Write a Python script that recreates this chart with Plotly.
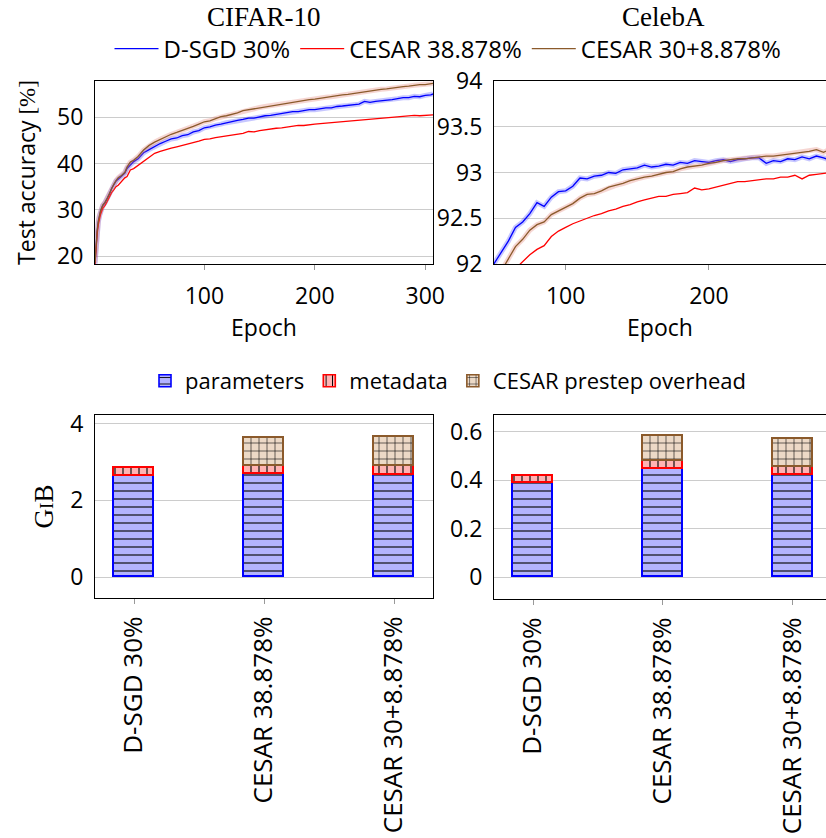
import plotly.graph_objects as go

# ---------------- data ----------------
cifar_epochs = [1, 2, 3, 4, 5, 6, 8, 10, 12, 14, 16, 18, 20, 22, 25, 28, 30, 33, 36, 40, 45,
                50, 55, 60, 65, 70, 75, 80, 85, 90, 95,
                100, 105, 110, 115, 120, 125, 130, 135, 140, 145,
                150, 155, 160, 165, 170, 175, 180, 185, 190, 195,
                200, 205, 210, 215, 220, 225, 230, 235, 240, 245,
                250, 255, 260, 265, 270, 275, 280, 285, 290, 295,
                300, 305, 307]
cifar_dsgd = [18.4, 22.6, 25.4, 27.3, 28.6, 29.6, 30.9, 31.5, 32.4, 33.3, 34.6, 35.4, 36.2, 36.6, 37.3, 37.9, 38.9, 39.7, 40.4, 41.0, 42.3,
              43.0, 43.7, 44.3, 44.8, 45.3, 45.5, 46.0, 46.2, 46.8, 47.1,
              47.7, 47.9, 48.3, 48.5, 48.8, 49.0, 49.3, 49.5, 49.8, 49.8,
              50.1, 50.3, 50.4, 50.6, 50.7, 50.9, 51.2, 51.2, 51.4, 51.6,
              51.6, 51.8, 52.0, 52.0, 52.3, 52.4, 52.5, 52.7, 52.8, 53.4,
              53.2, 53.4, 53.5, 53.7, 53.8, 54.0, 54.2, 54.2, 54.5, 54.4,
              54.7, 54.8, 55.0]
cifar_cesar = [18.3, 22.0, 24.9, 26.8, 28.0, 29.0, 30.3, 30.9, 31.8, 32.8, 33.7, 34.3, 35.0, 35.3, 36.2, 36.9, 37.2, 38.6, 38.9, 39.6, 40.6,
               41.5, 42.2, 42.6, 43.0, 43.3, 43.6, 43.9, 44.1, 44.5, 44.8,
               45.2, 45.3, 45.6, 45.8, 46.0, 46.2, 46.4, 46.5, 46.9, 46.8,
               47.1, 47.3, 47.4, 47.6, 47.7, 47.9, 48.0, 48.2, 48.2, 48.4,
               48.5, 48.6, 48.7, 48.8, 48.9, 49.0, 49.1, 49.2, 49.3, 49.4,
               49.6, 49.6, 49.8, 49.9, 50.0, 50.0, 50.1, 50.2, 50.4, 50.3,
               50.4, 50.4, 50.5]
cifar_cesar_split = [18.5, 22.9, 25.7, 27.6, 28.8, 29.8, 31.0, 31.6, 32.5, 33.5, 34.8, 35.5, 36.3, 36.9, 37.4, 38.1, 39.2, 40.3, 40.7, 41.5, 42.9,
                     43.9, 44.6, 45.2, 45.8, 46.3, 46.7, 47.1, 47.5, 48.0, 48.5,
                     49.0, 49.2, 49.7, 50.1, 50.3, 50.6, 50.9, 51.4, 51.6, 51.9,
                     52.1, 52.3, 52.5, 52.6, 52.8, 53.0, 53.3, 53.4, 53.6, 53.8,
                     53.9, 54.1, 54.3, 54.4, 54.6, 54.8, 54.9, 55.1, 55.2, 55.5,
                     55.6, 55.8, 56.0, 56.1, 56.3, 56.4, 56.6, 56.7, 56.9, 57.0,
                     57.0, 57.2, 57.3]

celeba_epochs = [45, 50, 55, 60, 65, 70, 75, 80, 85, 90,
                 95, 100, 105, 110, 115, 120, 125, 130, 135, 140,
                 145, 150, 155, 160, 165, 170, 175, 180, 185, 190,
                 195, 200, 205, 210, 215, 220, 225, 230, 235, 240,
                 245, 250, 255, 260, 265, 270, 275, 280, 285]
celeba_dsgd = [91.88, 92.00, 92.13, 92.25, 92.40, 92.46, 92.55, 92.67, 92.63, 92.73,
               92.79, 92.80, 92.85, 92.94, 92.93, 92.96, 92.97, 93.00, 92.99, 93.03,
               93.04, 93.05, 93.08, 93.06, 93.07, 93.09, 93.08, 93.11, 93.10, 93.13,
               93.12, 93.11, 93.13, 93.14, 93.12, 93.14, 93.15, 93.16, 93.16, 93.10,
               93.13, 93.12, 93.15, 93.14, 93.17, 93.15, 93.18, 93.16, 93.13]
celeba_cesar = [None, None, None, None, 91.95, 92.03, 92.10, 92.16, 92.20, 92.30,
                92.36, 92.40, 92.44, 92.47, 92.50, 92.53, 92.55, 92.58, 92.60, 92.63,
                92.65, 92.68, 92.70, 92.72, 92.74, 92.74, 92.76, 92.77, 92.78, 92.83,
                92.81, 92.82, 92.84, 92.86, 92.88, 92.90, 92.90, 92.91, 92.92, 92.93,
                92.93, 92.95, 92.95, 92.97, 92.93, 92.97, 92.98, 92.99, 93.00]
celeba_cesar_split = [None, None, 91.92, 92.05, 92.19, 92.27, 92.37, 92.43, 92.46, 92.54,
                      92.58, 92.62, 92.66, 92.72, 92.76, 92.77, 92.80, 92.84, 92.86, 92.88,
                      92.91, 92.93, 92.95, 92.96, 92.98, 93.00, 93.01, 93.04, 93.06, 93.07,
                      93.08, 93.10, 93.11, 93.13, 93.14, 93.15, 93.15, 93.16, 93.17, 93.18,
                      93.18, 93.19, 93.20, 93.21, 93.22, 93.23, 93.25, 93.22, 93.26]

categories = ["D-SGD 30%", "CESAR 38.878%", "CESAR 30+8.878%"]
cifar_params = [2.63, 2.68, 2.66]
cifar_meta = [0.20, 0.22, 0.23]
cifar_overhead = [None, 0.72, 0.76]
celeba_params = [0.390, 0.448, 0.423]
celeba_meta = [0.030, 0.032, 0.032]
celeba_overhead = [None, 0.105, 0.115]

series_names = ["D-SGD 30%", "CESAR 38.878%", "CESAR 30+8.878%"]
bar_names = ["parameters", "metadata", "CESAR prestep overhead"]

# ---------------- style ----------------
W, H = 826, 838
SANS = "Open Sans"
SERIF = "Liberation Serif"
FS = 23
BLUE, RED, BROWN = "#0000ff", "#ff0000", "#8b5a2b"
HALO = {BLUE: "rgba(0,0,255,0.22)", RED: "rgba(255,0,0,0.15)", BROWN: "rgba(225,120,105,0.30)"}
GRID = "#cccccc"


def px_x(a, b):
    return [a / W, b / W]


def px_y(top, bottom):
    return [1 - bottom / H, 1 - top / H]


fig = go.Figure()

# ---- line charts ----
for (xs, ys_list, xa, ya, show) in [
    (cifar_epochs, [cifar_dsgd, cifar_cesar, cifar_cesar_split], "x", "y", True),
    (celeba_epochs, [celeba_dsgd, celeba_cesar, celeba_cesar_split], "x2", "y2", False),
]:
    for name, ys, col in zip(series_names, ys_list, [BLUE, RED, BROWN]):
        if col != RED:
            fig.add_trace(go.Scatter(x=xs, y=ys, mode="lines", xaxis=xa, yaxis=ya,
                                     line=dict(color=HALO[col], width=5),
                                     showlegend=False, hoverinfo="skip"))
        fig.add_trace(go.Scatter(x=xs, y=ys, mode="lines", name=name, xaxis=xa, yaxis=ya,
                                 line=dict(color=col, width=1.3),
                                 showlegend=show, legend="legend"))

# ---- bar charts ----
bar_styles = [
    dict(fill="#b3b3ff", line=BLUE, shape="-"),
    dict(fill="#ffb3b3", line=RED, shape="|"),
    dict(fill="#ecd9c6", line=BROWN, shape="+"),
]
for (vals, xa, ya, show) in [
    ([cifar_params, cifar_meta, cifar_overhead], "x3", "y3", True),
    ([celeba_params, celeba_meta, celeba_overhead], "x4", "y4", False),
]:
    for name, v, st in zip(bar_names, vals, bar_styles):
        fig.add_trace(go.Bar(
            x=categories, y=v, name=name, xaxis=xa, yaxis=ya, width=0.31,
            marker=dict(color=st["fill"], line=dict(color=st["line"], width=1.6),
                        pattern=dict(shape=st["shape"], fgcolor="black", bgcolor=st["fill"],
                                     size=8, solidity=0.14, fillmode="replace")),
            showlegend=show, legend="legend2"))

axis_common = dict(showline=True, linecolor="black", linewidth=1.2,
                   zeroline=False, automargin=False)
tick_font = dict(family=SANS, size=FS, color="black")
cat_font = dict(family=SANS, size=26, color="black")

fig.update_layout(
    width=W, height=H, margin=dict(l=0, r=0, t=0, b=0, autoexpand=False),
    paper_bgcolor="white", plot_bgcolor="white",
    barmode="stack", bargap=0,
    font=dict(family=SANS, size=FS, color="black"),
    xaxis=dict(domain=px_x(95, 433), range=[1, 307], tickvals=[100, 200, 300], anchor="y",
               mirror=True, showgrid=False, ticks="outside", ticklen=5, tickcolor="#999999",
               tickfont=tick_font, ticklabelstandoff=6,
               title=dict(text="Epoch", font=dict(family=SANS, size=FS), standoff=8), **axis_common),
    yaxis=dict(domain=px_y(81, 264), range=[18.3, 57.8], tickvals=[20, 30, 40, 50], anchor="x",
               mirror=True, showgrid=True, gridcolor=GRID, ticks="",
               tickfont=tick_font, ticklabelstandoff=6,
               title=dict(text="Test accuracy <span style='font-family:Liberation Serif'>[%]</span>",
                          font=dict(family=SANS, size=FS), standoff=14), **axis_common),
    xaxis2=dict(domain=px_x(494, 826), range=[50, 281.7], tickvals=[100, 200], anchor="y2",
                mirror=True, showgrid=False, ticks="outside", ticklen=5, tickcolor="#999999",
                tickfont=tick_font, ticklabelstandoff=6,
                title=dict(text="Epoch", font=dict(family=SANS, size=FS), standoff=8), **axis_common),
    yaxis2=dict(domain=px_y(81, 264), range=[92, 94], tickvals=[92, 92.5, 93, 93.5, 94],
                ticktext=["92", "92.5", "93", "93.5", "94"], anchor="x2",
                mirror=False, showgrid=True, gridcolor=GRID, ticks="",
                tickfont=tick_font, ticklabelstandoff=6, **axis_common),
    xaxis3=dict(domain=px_x(95, 433), range=[-0.3, 2.3], anchor="y3", type="category",
                mirror=True, showgrid=False, ticks="outside", ticklen=5, tickcolor="#999999",
                tickangle=-90, tickfont=cat_font, ticklabelstandoff=2, **axis_common),
    yaxis3=dict(domain=px_y(415, 598), range=[-0.54, 4.22], tickvals=[0, 2, 4], anchor="x3",
                mirror=True, showgrid=True, gridcolor=GRID, ticks="",
                tickfont=tick_font, ticklabelstandoff=6,
                title=dict(text="G<span style='font-size:19px'>I</span>B",
                           font=dict(family=SERIF, size=27), standoff=8), **axis_common),
    xaxis4=dict(domain=px_x(494, 826), range=[-0.3, 2.254], anchor="y4", type="category",
                mirror=True, showgrid=False, ticks="outside", ticklen=5, tickcolor="#999999",
                tickangle=-90, tickfont=cat_font, ticklabelstandoff=2, **axis_common),
    yaxis4=dict(domain=px_y(415, 599), range=[-0.09, 0.67], tickvals=[0, 0.2, 0.4, 0.6],
                ticktext=["0", "0.2", "0.4", "0.6"], anchor="x4",
                mirror=False, showgrid=True, gridcolor=GRID, ticks="",
                tickfont=tick_font, ticklabelstandoff=6, **axis_common),
    legend=dict(orientation="h", x=448 / W, xanchor="center", y=1 - 49 / H, yanchor="middle",
                font=dict(family=SANS, size=24), bgcolor="rgba(0,0,0,0)", itemwidth=44,
                tracegroupgap=0, traceorder="normal"),
    legend2=dict(orientation="h", x=448 / W, xanchor="center", y=1 - 381 / H, yanchor="middle",
                 font=dict(family=SANS, size=22), bgcolor="rgba(0,0,0,0)", itemwidth=30,
                 traceorder="normal"),
    annotations=[
        dict(text="CIFAR-10", x=264 / W, y=1 - 17 / H, xref="paper", yref="paper",
             xanchor="center", yanchor="middle", showarrow=False,
             font=dict(family=SERIF, size=27, color="black")),
        dict(text="CelebA", x=663 / W, y=1 - 17 / H, xref="paper", yref="paper",
             xanchor="center", yanchor="middle", showarrow=False,
             font=dict(family=SERIF, size=27, color="black")),
    ],
)

fig.write_html("out.html")
